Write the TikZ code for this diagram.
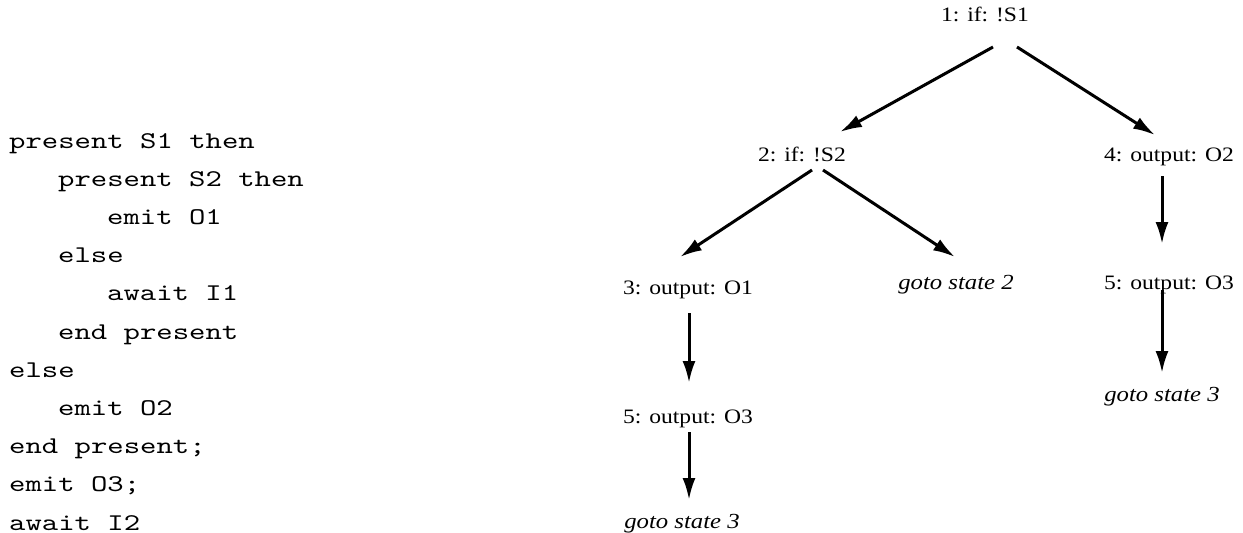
\documentclass[tikz,border=0pt]{standalone}
\usepackage{fontspec}
\setmainfont[FakeStretch=1.15]{Liberation Serif}
\newfontfamily\codefont[FakeStretch=1.3]{lmmono10-regular.otf}
\usetikzlibrary{arrows.meta,calc}
\begin{document}
\begin{tikzpicture}[x=1pt,y=-1pt,
  lbl/.style={font=\fontsize{20.5}{24}\selectfont, inner sep=0pt, anchor=base},
  glbl/.style={inner sep=0pt, anchor=base, font=\fontsize{21.5}{24}\selectfont\itshape},
  code/.style={font=\codefont\fontsize{24}{28}\selectfont, inner sep=0pt, anchor=base west},
  arr/.style={line width=3pt, -{Latex[length=22pt,width=13pt]}}]
\useasboundingbox[fill=white] (0,0) rectangle (1243,533);
% code listing
\foreach \k/\ind/\txt in {0/0/present S1 then, 1/1/present S2 then, 2/2/emit O1, 3/1/else, 4/2/await I1, 5/1/end present, 6/0/else, 7/1/emit O2, 8/0/end present;, 9/0/emit O3;, 10/0/await I2}
  \node[code] (c\k) at ({9+\ind*49},{148+\k*38.2}) {\txt};
% tree
\node[lbl]  (n1)  at (985,21)  {1: if: !S1};
\node[lbl]  (n2)  at (802,161) {2: if: !S2};
\node[lbl]  (n4)  at (1169,161) {4: output: O2};
\node[lbl]  (n3)  at (688,294) {3: output: O1};
\node[glbl] (g2)  at (956,289) {goto state 2};
\node[lbl]  (n5b) at (1169,289) {5: output: O3};
\node[glbl] (g3b) at (1162,401) {goto state 3};
\node[lbl]  (n5a) at (688,423) {5: output: O3};
\node[glbl] (g3a) at (682,528) {goto state 3};
\draw[arr] ($(n1.base)+(8,26)$) -- ($(n2.base)+(38,-29)$);
\draw[arr] ($(n1.base)+(32,26)$) -- ($(n4.base)+(-14,-26)$);
\draw[arr] ($(n2.base)+(10,9)$) -- ($(n3.base)+(-8,-37)$);
\draw[arr] ($(n2.base)+(21,9)$) -- ($(g2.base)+(-1,-32)$);
\draw[arr] ($(n4.base)+(-7,15)$) -- ($(n5b.base)+(-7,-45)$);
\draw[arr] ($(n5b.base)+(-7,1)$) -- ($(g3b.base)+(0,-28)$);
\draw[arr] ($(n3.base)+(1,19)$) -- ($(n5a.base)+(1,-40)$);
\draw[arr] ($(n5a.base)+(1,9)$) -- ($(g3a.base)+(7,-28)$);
\end{tikzpicture}
\end{document}
